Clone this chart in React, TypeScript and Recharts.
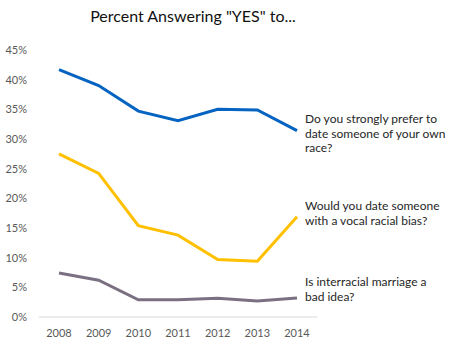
import React from "react";
import { CartesianGrid, Line, LineChart, XAxis, YAxis } from "recharts";

const years: string[] = ["2008", "2009", "2010", "2011", "2012", "2013", "2014"];
const preferOwnRace: number[] = [41.7, 39.0, 34.7, 33.1, 35.0, 34.9, 31.4];
const dateBiased: number[] = [27.5, 24.2, 15.4, 13.8, 9.7, 9.4, 16.9];
const marriageBad: number[] = [7.4, 6.2, 2.9, 2.9, 3.15, 2.7, 3.2];
const yTicks: number[] = [0, 5, 10, 15, 20, 25, 30, 35, 40, 45];

const title = 'Percent Answering "YES" to...';
const seriesLabels: string[][] = [
  ["Do you strongly prefer to", "date someone of your own", "race?"],
  ["Would you date someone", "with a vocal racial bias?"],
  ["Is interracial marriage a", "bad idea?"],
];

const data = years.map((year, i) => ({
  year,
  prefer: preferOwnRace[i],
  biased: dateBiased[i],
  marriage: marriageBad[i],
}));

const FONT = "Lato, 'Open Sans', sans-serif";

// top of each annotation block, beside the last point
const labelTops = [112, 199, 275];

const App: React.FC = () => {
  return (
    <div
      style={{
        position: "absolute",
        left: 0,
        top: 0,
        width: 453,
        height: 350,
        background: "#fff",
        fontFamily: FONT,
      }}
    >
      <div
        style={{
          position: "absolute",
          left: 0,
          width: 386,
          top: 6,
          textAlign: "center",
          fontSize: 16,
          color: "#111",
        }}
      >
        {title}
      </div>
      <LineChart
        width={453}
        height={350}
        data={data}
        margin={{ top: 50, right: 136, left: 0, bottom: 3 }}
      >
        <CartesianGrid stroke="none" />
        <XAxis
          dataKey="year"
          tickLine={false}
          axisLine={{ stroke: "#d9d9d9" }}
          tick={{ fill: "#595959", fontSize: 11, fontFamily: FONT }}
          tickMargin={6}
          padding={{ left: 20, right: 20 }}
          height={30}
        />
        <YAxis
          width={39}
          domain={[0, 45]}
          ticks={yTicks}
          interval={0}
          tickFormatter={(v: number) => `${v}%`}
          tickLine={false}
          axisLine={false}
          tickMargin={6}
          tick={{ fill: "#595959", fontSize: 11, fontFamily: FONT }}
        />
        <Line
          dataKey="prefer"
          stroke="#0563c1"
          strokeWidth={3}
          dot={false}
          isAnimationActive={false}
        />
        <Line
          dataKey="biased"
          stroke="#ffc000"
          strokeWidth={3}
          dot={false}
          isAnimationActive={false}
        />
        <Line
          dataKey="marriage"
          stroke="#7a7082"
          strokeWidth={3}
          dot={false}
          isAnimationActive={false}
        />
      </LineChart>
      {seriesLabels.map((lines, i) => (
        <div
          key={i}
          style={{
            position: "absolute",
            left: 305,
            top: labelTops[i],
            fontSize: 12,
            lineHeight: "14.5px",
            color: "#262626",
            whiteSpace: "nowrap",
          }}
        >
          {lines.map((l, j) => (
            <div key={j}>{l}</div>
          ))}
        </div>
      ))}
    </div>
  );
};

export default App;
